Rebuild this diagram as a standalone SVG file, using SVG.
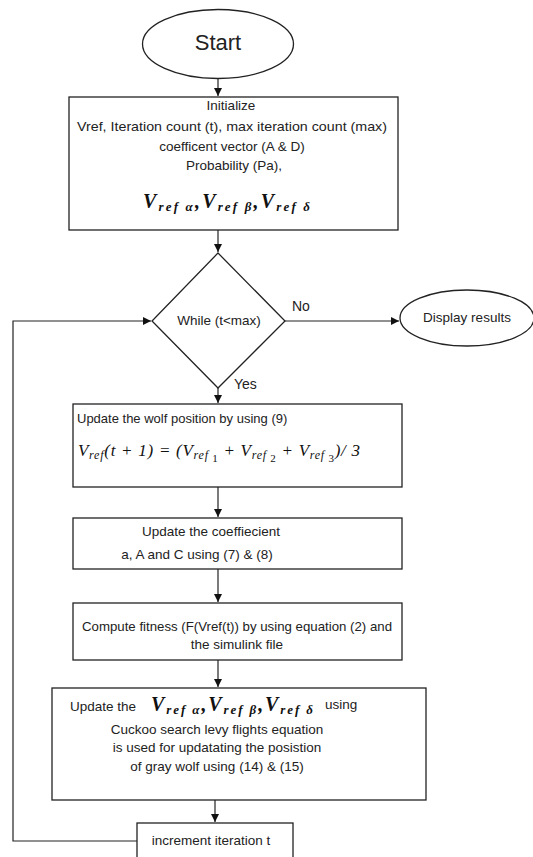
<svg xmlns="http://www.w3.org/2000/svg" width="533" height="857" viewBox="0 0 533 857">
<style>
.s{fill:#fff;stroke:#222;stroke-width:1.3}
.t{font-family:"Liberation Sans",Arial,sans-serif;font-size:13.5px;fill:#222}
.m{font-family:"Liberation Serif","Times New Roman",serif;font-style:italic;fill:#111}
.c{stroke:#222;stroke-width:1.2;fill:none}
</style>
<defs>
<marker id="ah" markerWidth="10" markerHeight="10" refX="9" refY="5" orient="auto" markerUnits="userSpaceOnUse">
<path d="M1,1 L9,5 L1,9 Z" fill="#111"/>
</marker>
</defs>
<rect width="533" height="857" fill="#fff"/>
<g id="connectors">
<line class="c" x1="218" y1="79" x2="218" y2="96" marker-end="url(#ah)"/>
<line class="c" x1="218" y1="230" x2="218" y2="252" marker-end="url(#ah)"/>
<line class="c" x1="285" y1="321" x2="399" y2="321" marker-end="url(#ah)"/>
<line class="c" x1="218" y1="388" x2="218" y2="403" marker-end="url(#ah)"/>
<line class="c" x1="218" y1="487" x2="218" y2="517" marker-end="url(#ah)"/>
<line class="c" x1="218" y1="569" x2="218" y2="602" marker-end="url(#ah)"/>
<line class="c" x1="218" y1="660" x2="218" y2="687" marker-end="url(#ah)"/>
<line class="c" x1="215" y1="800" x2="215" y2="822" marker-end="url(#ah)"/>
<polyline class="c" points="137,841 13,841 13,321 151,321" marker-end="url(#ah)"/>
<text class="t" x="292" y="311" style="font-size:14px">No</text>
<text class="t" x="234" y="389" style="font-size:14px">Yes</text>
</g>
<g id="start">
<ellipse class="s" cx="218" cy="44" rx="75.5" ry="34.5"/>
<text class="t" x="218" y="50" text-anchor="middle" style="font-size:22px">Start</text>
</g>
<g id="init">
<rect class="s" x="69" y="97" width="329" height="133"/>
<text class="t" x="231" y="110" text-anchor="middle">Initialize</text>
<text class="t" x="232" y="131" text-anchor="middle" textLength="310" lengthAdjust="spacingAndGlyphs">Vref, Iteration count (t), max iteration count (max)</text>
<text class="t" x="232" y="151" text-anchor="middle">coefficent vector (A &amp; D)</text>
<text class="t" x="234" y="170" text-anchor="middle">Probability (Pa),</text>
<text class="m" x="143" y="208" font-weight="bold" font-size="20" textLength="167" lengthAdjust="spacing">V<tspan font-size="13" dy="3">ref α</tspan><tspan dy="-3">,</tspan>V<tspan font-size="13" dy="3">ref β</tspan><tspan dy="-3">,</tspan>V<tspan font-size="13" dy="3">ref δ</tspan></text>
</g>
<g id="decision">
<polygon class="s" points="218,253 285,321 218,388 152,321"/>
<text class="t" x="219" y="325" text-anchor="middle">While (t&lt;max)</text>
</g>
<g id="display">
<ellipse class="s" cx="467" cy="318" rx="67" ry="28"/>
<text class="t" x="467" y="322" text-anchor="middle">Display results</text>
</g>
<g id="wolf">
<rect class="s" x="73" y="404" width="329" height="83"/>
<text class="t" x="77" y="423" style="font-size:13px">Update the wolf position by using (9)</text>
<text class="m" x="78" y="456" font-size="17" textLength="282" lengthAdjust="spacing">V<tspan font-size="12" dy="3">ref</tspan><tspan dy="-3">(t + 1) = (V</tspan><tspan font-size="12" dy="3">ref</tspan><tspan font-size="11" dy="3" font-style="normal"> 1</tspan><tspan dy="-6"> + V</tspan><tspan font-size="12" dy="3">ref</tspan><tspan font-size="11" dy="3" font-style="normal"> 2</tspan><tspan dy="-6"> + V</tspan><tspan font-size="12" dy="3">ref</tspan><tspan font-size="11" dy="3" font-style="normal"> 3</tspan><tspan dy="-6">)/ 3</tspan></text>
</g>
<g id="coef">
<rect class="s" x="73" y="518" width="329" height="51"/>
<text class="t" x="211" y="536" text-anchor="middle">Update the coeffiecient</text>
<text class="t" x="197" y="559" text-anchor="middle">a, A and C using (7) &amp; (8)</text>
</g>
<g id="fitness">
<rect class="s" x="73" y="603" width="329" height="57"/>
<text class="t" x="237" y="631" text-anchor="middle" textLength="310" lengthAdjust="spacingAndGlyphs">Compute fitness (F(Vref(t)) by using equation (2) and</text>
<text class="t" x="237" y="649" text-anchor="middle">the simulink file</text>
</g>
<g id="update">
<rect class="s" x="52" y="688" width="374" height="112"/>
<text class="t" x="70" y="711">Update the</text>
<text class="m" x="151" y="711" font-weight="bold" font-size="20" textLength="162" lengthAdjust="spacing">V<tspan font-size="13" dy="3">ref α</tspan><tspan dy="-3">,</tspan>V<tspan font-size="13" dy="3">ref β</tspan><tspan dy="-3">,</tspan>V<tspan font-size="13" dy="3">ref δ</tspan></text>
<text class="t" x="325" y="709">using</text>
<text class="t" x="217" y="734" text-anchor="middle">Cuckoo search levy flights equation</text>
<text class="t" x="217" y="752" text-anchor="middle">is used for updatating the posistion</text>
<text class="t" x="217" y="771" text-anchor="middle">of gray wolf using (14) &amp; (15)</text>
</g>
<g id="increment">
<rect class="s" x="137" y="823" width="156" height="50"/>
<text class="t" x="211" y="845" text-anchor="middle">increment iteration t</text>
</g>
</svg>
